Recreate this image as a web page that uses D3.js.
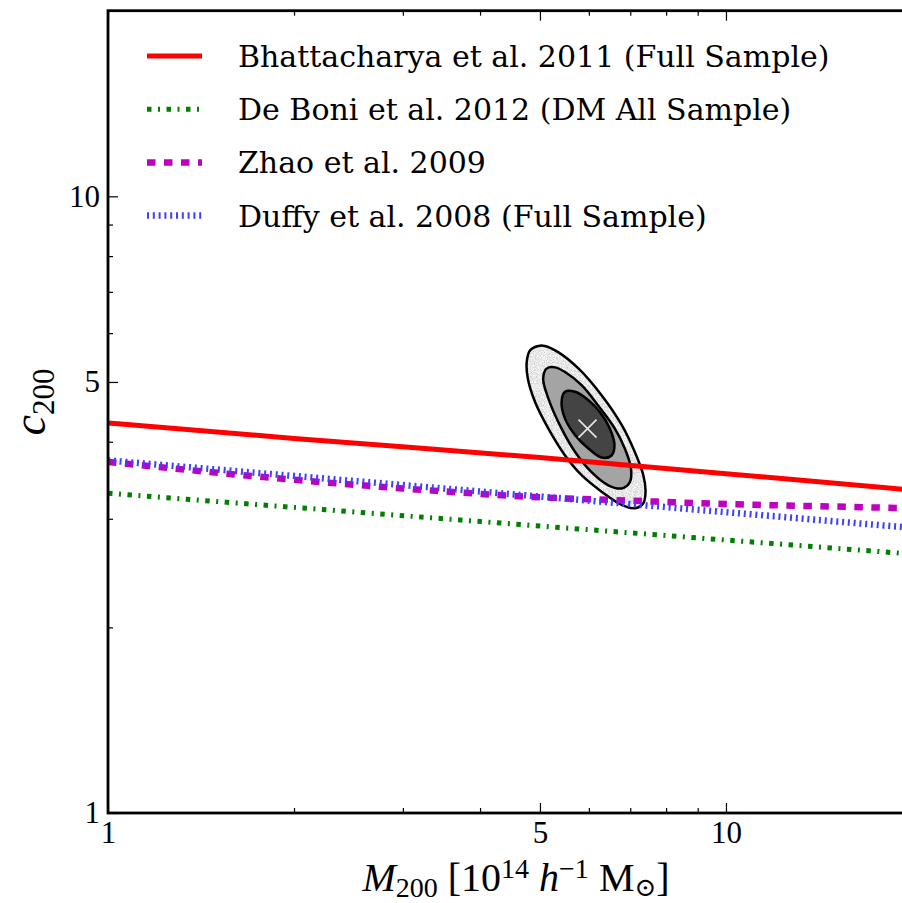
<!DOCTYPE html>
<html>
<head>
<meta charset="utf-8">
<script src="https://cdnjs.cloudflare.com/ajax/libs/d3/7.8.5/d3.min.js"></script>
<style>
  body { margin: 0; background: #fff; }
  svg { display: block; }
  text { font-family: "Liberation Serif", "DejaVu Serif", serif; fill: #000; }
</style>
</head>
<body>
<script>
// ---- data (M200 in 1e14 h^-1 Msun, c200) ----
const bhattM  = [1, 2, 5, 10, 20];
const bhattC  = [4.29, 4.05, 3.77, 3.55, 3.34];
const deboniM = [1, 5, 20];
const deboniC = [3.30, 2.92, 2.63];
const zhaoM   = [1, 2, 3, 5, 7, 10, 15, 20];
const zhaoC   = [3.71, 3.47, 3.36, 3.25, 3.21, 3.17, 3.14, 3.12];
const duffyM  = [1, 5, 20];
const duffyC  = [3.73, 3.26, 2.90];

// likelihood contours, outermost first
const contourOuter = [[4.97,5.72],[4.82,5.63],[4.76,5.39],[4.78,5.06],[4.91,4.64],[5.16,4.20],[5.49,3.80],
  [5.84,3.53],[6.29,3.32],[6.78,3.16],[7.12,3.12],[7.35,3.18],[7.41,3.32],[7.35,3.53],[7.12,3.85],
  [6.78,4.26],[6.29,4.76],[5.77,5.26],[5.35,5.59],[5.09,5.72]];
const contourMid = [[5.29,5.28],[5.13,5.26],[5.06,5.06],[5.16,4.70],[5.42,4.20],[5.70,3.85],[6.06,3.57],
  [6.45,3.40],[6.78,3.36],[6.99,3.44],[7.02,3.62],[6.86,3.90],[6.61,4.20],[6.21,4.58],[5.84,4.94],[5.49,5.19]];
const contourInner = [[5.70,4.82],[5.49,4.82],[5.42,4.64],[5.49,4.36],[5.70,4.10],[5.99,3.90],[6.29,3.77],
  [6.53,3.80],[6.60,3.95],[6.49,4.20],[6.25,4.47],[5.99,4.67]];
const bestFit = [5.97, 4.20];

const xMajor = [1, 5, 10];
const xMinor = [2, 3, 4, 6, 7, 8, 9, 20];
const yMajor = [1, 5, 10];
const yMinor = [2, 3, 4, 6, 7, 8, 9, 20];

const legendLabels = [
  "Bhattacharya et al. 2011 (Full Sample)",
  "De Boni et al. 2012 (DM All Sample)",
  "Zhao et al. 2009",
  "Duffy et al. 2008 (Full Sample)"
];

// ---- layout ----
const W = 902, H = 903;
const mLeft = 108, mRight = 912, mTop = 10.7, mBottom = 813;

const svg = d3.select("body").append("svg").attr("width", W).attr("height", H);

const x = d3.scaleLog().domain([1, 20]).range([mLeft, mRight]);
const y = d3.scaleLog().domain([1, 20]).range([mBottom, mTop]);

const defs = svg.append("defs");
defs.append("clipPath").attr("id", "plotclip")
  .append("rect").attr("x", mLeft).attr("y", mTop).attr("width", mRight - mLeft).attr("height", mBottom - mTop);

// speckled light-grey fill for the outer contour
const speckle = defs.append("filter").attr("id", "speckle")
  .attr("color-interpolation-filters", "sRGB")
  .attr("x", 0).attr("y", 0).attr("width", "100%").attr("height", "100%");
speckle.append("feTurbulence").attr("type", "fractalNoise").attr("baseFrequency", 1.1)
  .attr("numOctaves", 2).attr("seed", 4).attr("result", "noise");
speckle.append("feColorMatrix").attr("in", "noise").attr("type", "matrix")
  .attr("values", "0.4 0 0 0 0.71  0.4 0 0 0 0.71  0.4 0 0 0 0.71  0 0 0 0 1").attr("result", "gray");
speckle.append("feComposite").attr("in", "gray").attr("in2", "SourceGraphic").attr("operator", "in");

const plot = svg.append("g").attr("clip-path", "url(#plotclip)");

// contours
const closed = d3.line().x(d => x(d[0])).y(d => y(d[1])).curve(d3.curveCatmullRomClosed.alpha(0.5));
plot.append("path").attr("d", closed(contourOuter)).attr("fill", "#000").attr("filter", "url(#speckle)");
plot.append("path").attr("d", closed(contourOuter)).attr("fill", "none").attr("stroke", "#000").attr("stroke-width", 2.5);
plot.append("path").attr("d", closed(contourMid)).attr("fill", "#a4a4a4").attr("stroke", "#000").attr("stroke-width", 2.5);
plot.append("path").attr("d", closed(contourInner)).attr("fill", "#444").attr("stroke", "#000").attr("stroke-width", 2.5);

// best-fit cross
const bx = x(bestFit[0]), by = y(bestFit[1]);
plot.append("path")
  .attr("d", `M${bx - 9},${by - 9}L${bx + 9},${by + 9}M${bx - 9},${by + 9}L${bx + 9},${by - 9}`)
  .attr("stroke", "#e8e8e8").attr("stroke-width", 1.6).attr("fill", "none");

// relations
const styles = [
  { color: "#ff0000", width: 5,   dash: null },
  { color: "#008000", width: 5,   dash: "4.5,6.5,2,6.5" },
  { color: "#bf00bf", width: 6.5, dash: "8.5,8.5" },
  { color: "#3f3fff", width: 6.5, dash: "2,3.8" }
];
const series = [
  d3.zip(bhattM, bhattC),
  d3.zip(deboniM, deboniC),
  d3.zip(zhaoM, zhaoC),
  d3.zip(duffyM, duffyC)
];
const line = d3.line().x(d => x(d[0])).y(d => y(d[1])).curve(d3.curveMonotoneX);
series.forEach((s, i) => {
  const st = styles[i];
  plot.append("path").attr("d", line(s)).attr("fill", "none")
    .attr("stroke", st.color).attr("stroke-width", st.width)
    .attr("stroke-dasharray", st.dash);
});

// axes (ticks pointing inward)
function styleAxis(g) {
  g.select(".domain").remove();
  g.selectAll("line").attr("stroke", "#000").attr("stroke-width", 1.2);
  g.selectAll("text").style("font-size", "31px").style("font-family", '"Liberation Serif", serif');
}
svg.append("g").attr("transform", `translate(0,${mBottom})`)
  .call(d3.axisBottom(x).tickValues(xMajor).tickSize(-10).tickPadding(8).tickFormat(d3.format("d"))).call(styleAxis);
svg.append("g").attr("transform", `translate(0,${mBottom})`)
  .call(d3.axisBottom(x).tickValues(xMinor).tickSize(-5).tickFormat("")).call(styleAxis);
svg.append("g").attr("transform", `translate(0,${mTop})`)
  .call(d3.axisTop(x).tickValues(xMajor).tickSize(-10).tickFormat("")).call(styleAxis);
svg.append("g").attr("transform", `translate(0,${mTop})`)
  .call(d3.axisTop(x).tickValues(xMinor).tickSize(-5).tickFormat("")).call(styleAxis);
svg.append("g").attr("transform", `translate(${mLeft},0)`)
  .call(d3.axisLeft(y).tickValues(yMajor).tickSize(-10).tickPadding(8).tickFormat(d3.format("d"))).call(styleAxis);
svg.append("g").attr("transform", `translate(${mLeft},0)`)
  .call(d3.axisLeft(y).tickValues(yMinor).tickSize(-5).tickFormat("")).call(styleAxis);
svg.append("g").attr("transform", `translate(${mRight},0)`)
  .call(d3.axisRight(y).tickValues(yMajor).tickSize(-10).tickFormat("")).call(styleAxis);
svg.append("g").attr("transform", `translate(${mRight},0)`)
  .call(d3.axisRight(y).tickValues(yMinor).tickSize(-5).tickFormat("")).call(styleAxis);

// frame
svg.append("rect").attr("x", mLeft).attr("y", mTop).attr("width", mRight - mLeft).attr("height", mBottom - mTop)
  .attr("fill", "none").attr("stroke", "#000").attr("stroke-width", 2.8);

// legend
const leg = svg.append("g");
legendLabels.forEach((lab, i) => {
  const ly = 56 + i * 53.2;
  const st = styles[i];
  leg.append("line").attr("x1", 147).attr("x2", 202).attr("y1", ly).attr("y2", ly)
    .attr("stroke", st.color).attr("stroke-width", st.width).attr("stroke-dasharray", st.dash);
  leg.append("text").attr("x", 238).attr("y", ly + 11)
    .style("font-family", '"DejaVu Serif", serif').style("font-size", "30px").text(lab);
});

// axis labels
const xl = svg.append("text").attr("x", 516).attr("y", 891).attr("text-anchor", "middle").style("font-size", "40px");
xl.append("tspan").style("font-style", "italic").text("M");
xl.append("tspan").attr("baseline-shift", "-22%").style("font-size", "28px").text("200");
xl.append("tspan").text(" [10");
xl.append("tspan").attr("baseline-shift", "45%").style("font-size", "28px").text("14");
xl.append("tspan").style("font-style", "italic").text(" h");
xl.append("tspan").attr("baseline-shift", "45%").style("font-size", "28px").text("\u22121");
xl.append("tspan").text(" M");
xl.append("tspan").attr("baseline-shift", "-18%").style("font-size", "26px").text("\u2299");
xl.append("tspan").text("]");

const yl = svg.append("text").attr("transform", "translate(45,402) rotate(-90)")
  .attr("text-anchor", "middle").style("font-size", "46px");
yl.append("tspan").style("font-style", "italic").text("c");
yl.append("tspan").attr("baseline-shift", "-28%").style("font-size", "31px").text("200");
</script>
</body>
</html>
